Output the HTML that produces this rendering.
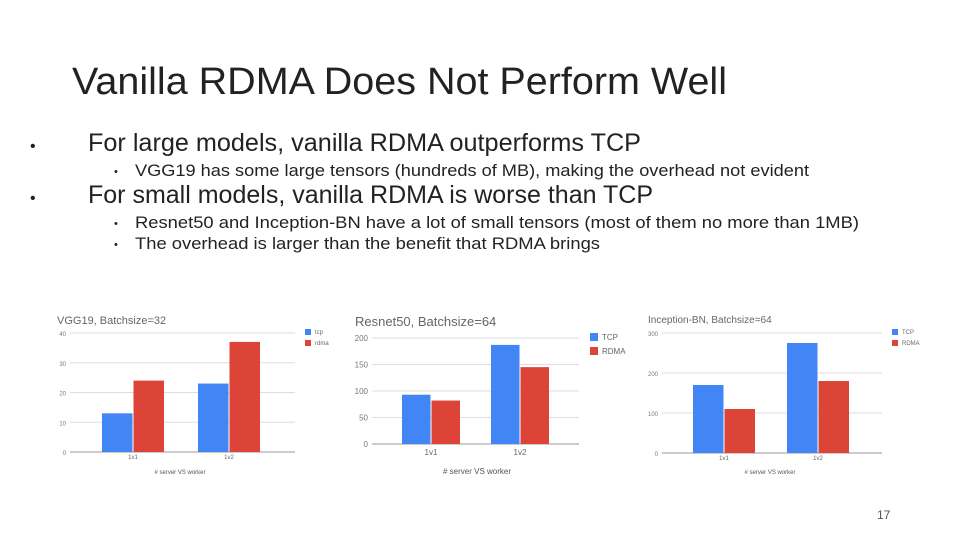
<!DOCTYPE html>
<html><head><meta charset="utf-8"><style>
body{margin:0;background:#fff;}
svg{display:block;font-family:"Liberation Sans",sans-serif;}
</style></head><body>
<svg id="s" width="960" height="540" viewBox="0 0 960 540">
<text x="72" y="94" font-size="38" fill="#222" textLength="655" lengthAdjust="spacingAndGlyphs">Vanilla RDMA Does Not Perform Well</text>
<g fill="#222">
<text x="30" y="151" font-size="16">•</text>
<text x="88" y="151" font-size="25" textLength="553" lengthAdjust="spacingAndGlyphs">For large models, vanilla RDMA outperforms TCP</text>
<text x="114" y="175" font-size="11">•</text>
<text x="135" y="176" font-size="17" textLength="674" lengthAdjust="spacingAndGlyphs">VGG19 has some large tensors (hundreds of MB), making the overhead not evident</text>
<text x="30" y="203" font-size="16">•</text>
<text x="88" y="203" font-size="25" textLength="565" lengthAdjust="spacingAndGlyphs">For small models, vanilla RDMA is worse than TCP</text>
<text x="114" y="227" font-size="11">•</text>
<text x="135" y="228" font-size="17" textLength="724" lengthAdjust="spacingAndGlyphs">Resnet50 and Inception-BN have a lot of small tensors (most of them no more than 1MB)</text>
<text x="114" y="248" font-size="11">•</text>
<text x="135" y="249" font-size="17" textLength="465" lengthAdjust="spacingAndGlyphs">The overhead is larger than the benefit that RDMA brings</text>
</g>
<text x="877" y="519" font-size="12" fill="#555">17</text>
<g id="charts"></g>
</svg>
<script>
const categories = ["1v1", "1v2"];
const vggTcp = [13, 23];
const vggRdma = [24, 37];
const vggTicks = [0, 10, 20, 30, 40];
const resTcp = [93, 187];
const resRdma = [82, 145];
const resTicks = [0, 50, 100, 150, 200];
const incTcp = [170, 275];
const incRdma = [110, 180];
const incTicks = [0, 100, 200, 300];

const NS = "http://www.w3.org/2000/svg";
const root = document.getElementById("charts");
function mk(tag, attrs, parent, txt){
  const e = document.createElementNS(NS, tag);
  for (const k in attrs) e.setAttribute(k, attrs[k]);
  if (txt !== undefined) e.textContent = txt;
  parent.appendChild(e);
  return e;
}
function chart(cfg){
  const g = mk("g", {}, root);
  
  
  const max = cfg.ticks[cfg.ticks.length-1];
  const y = v => cfg.y0 - v / max * (cfg.y0 - cfg.yTop);
  const t = mk("text", {x: cfg.titleX, y: cfg.titleY, "font-size": cfg.titleSize, fill: "#666"}, g, cfg.title);
  
  
  cfg.ticks.forEach(v => {
    const l = mk("line", {x1: cfg.x0, x2: cfg.x1, y1: y(v), y2: y(v), stroke: v === 0 ? "#999" : "#ddd", "stroke-width": 1}, g);
    
    
    const tl = mk("text", {x: cfg.x0 - 4, y: y(v) + 3, "font-size": cfg.tickSize, fill: "#777", "text-anchor": "end"}, g, String(v));
    
    
  });
  const n = categories.length;
  const band = (cfg.bx1 - cfg.bx0) / n;
  categories.forEach((c, i) => {
    const cx = cfg.bx0 + band * (i + 0.5);
    const bw = cfg.barW;
    const b1 = mk("rect", {x: cx - bw, y: y(cfg.tcp[i]), width: bw - 0.5, height: cfg.y0 - y(cfg.tcp[i]), fill: "#4285f4"}, g);
    
    
    const b2 = mk("rect", {x: cx + 0.5, y: y(cfg.rdma[i]), width: bw - 0.5, height: cfg.y0 - y(cfg.rdma[i]), fill: "#db4437"}, g);
    
    
    const cl = mk("text", {x: cx, y: cfg.y0 + cfg.catDy, "font-size": cfg.tickSize, fill: "#666", "text-anchor": "middle"}, g, c);
    
    
  });
  const xt = mk("text", {x: cfg.xTitleX, y: 474, "font-size": cfg.tickSize, fill: "#555", "text-anchor": "middle"}, g, "# server VS worker");
  
  
  cfg.legend.forEach((lab, i) => {
    const ly = cfg.legY + i * cfg.legGap;
    const r = mk("rect", {x: cfg.legX, y: ly - 4, width: cfg.legSq, height: cfg.legSq, fill: i ? "#db4437" : "#4285f4"}, g);
    
    
    const lt = mk("text", {x: cfg.legX + cfg.legSq + 4, y: ly + cfg.legSq - 5, "font-size": cfg.tickSize, fill: "#666"}, g, lab);
    
    
  });
}
chart({name:"chart-vgg19", title:"VGG19, Batchsize=32", titleX:57, titleY:324, titleSize:11,
  ticks:vggTicks, tcp:vggTcp, rdma:vggRdma, x0:70, x1:295, bx0:85, bx1:277, y0:452, yTop:333, barW:31,
  tickSize:6, catDy:7, xTitleX:180, legend:["tcp","rdma"], legX:305, legY:333, legGap:11, legSq:6});
chart({name:"chart-resnet50", title:"Resnet50, Batchsize=64", titleX:355, titleY:326, titleSize:13,
  ticks:resTicks, tcp:resTcp, rdma:resRdma, x0:372, x1:579, bx0:386.5, bx1:564.5, y0:444, yTop:338, barW:29,
  tickSize:8, catDy:11, xTitleX:477, legend:["TCP","RDMA"], legX:590, legY:337, legGap:14, legSq:8});
chart({name:"chart-inception-bn", title:"Inception-BN, Batchsize=64", titleX:648, titleY:323, titleSize:10,
  ticks:incTicks, tcp:incTcp, rdma:incRdma, x0:662, x1:882, bx0:677, bx1:865, y0:453, yTop:333, barW:31,
  tickSize:6, catDy:7, xTitleX:770, legend:["TCP","RDMA"], legX:892, legY:333, legGap:11, legSq:6});
</script>
</body></html>
